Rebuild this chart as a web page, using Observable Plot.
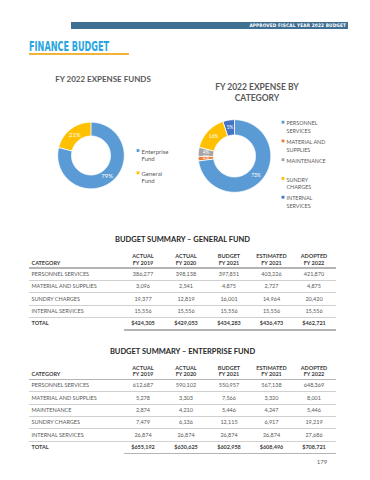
<!DOCTYPE html>
<html>
<head>
<meta charset="utf-8">
<script src="https://cdn.jsdelivr.net/npm/d3@7"></script>
<script src="https://cdn.jsdelivr.net/npm/@observablehq/plot@0.6"></script>
<style>
  html, body { margin: 0; padding: 0; }
  body { width: 370px; height: 480px; position: relative; background: #fff; overflow: hidden; font-family: Lato, "Open Sans", sans-serif; }
  .abs { position: absolute; }
  .bar { left: 71px; top: 22px; width: 277px; height: 7px; background: #3f6f93; color: #fff;
         font-family: "DejaVu Sans Condensed", "DejaVu Sans", sans-serif; font-weight: bold; font-size: 4.7px;
         line-height: 7px; text-align: right; box-sizing: border-box; padding-right: 2px; letter-spacing: 0.15px; }
  .pagetitle { left: 29px; top: 40px; font-family: "DejaVu Sans Condensed", "DejaVu Sans", sans-serif; font-weight: bold;
         font-size: 13.7px; line-height: 13.7px; color: #2aa6de; transform: scaleX(0.66); transform-origin: 0 0; white-space: nowrap; }
  .underline { left: 29px; top: 53.3px; width: 100px; height: 2px; background: #f0b43a; }
  .ctitle { font-weight: bold; color: #595959; text-align: center; white-space: nowrap; }
  .ttitle { left: 0; width: 365px; text-align: center; font-weight: bold; color: #262626; font-size: 7.5px; line-height: 8px; }
  .cell { position: absolute; font-size: 5.5px; color: #595959; white-space: nowrap; }
  .hdr { font-weight: bold; color: #404040; text-align: center; line-height: 6.6px; }
  .tot { font-weight: bold; color: #404040; }
  .line { position: absolute; }
  .pagenum { left: 310px; top: 458px; width: 24px; text-align: center; font-size: 6px; color: #595959; }
</style>
</head>
<body>
<div class="abs bar">APPROVED FISCAL YEAR 2022 BUDGET</div>
<div class="abs pagetitle">FINANCE BUDGET</div>
<div class="abs underline"></div>

<div class="abs ctitle" style="left:0;width:206px;top:74.5px;font-size:8px;line-height:9px;">FY 2022 EXPENSE FUNDS</div>
<div class="abs ctitle" style="left:197px;width:120px;top:81.5px;font-size:8.5px;line-height:11px;">FY 2022 EXPENSE BY<br>CATEGORY</div>

<div id="donut1" class="abs" style="left:0;top:110px;"></div>
<div id="donut2" class="abs" style="left:185px;top:110px;"></div>

<div class="abs ttitle" style="top:236px;">BUDGET SUMMARY – GENERAL FUND</div>
<div id="table1" class="abs" style="left:0;top:0;"></div>
<div class="abs ttitle" style="top:347.7px;">BUDGET SUMMARY – ENTERPRISE FUND</div>
<div id="table2" class="abs" style="left:0;top:0;"></div>
<div class="abs pagenum">179</div>

<script>
// ---------- Donut data ----------
const fundLabels = ["Enterprise\nFund", "General\nFund"];
const fundShares = [79, 21];
const fundColors = ["#5b9bd5", "#ffc000"];

const catLabels = ["PERSONNEL\nSERVICES", "MATERIAL AND\nSUPPLIES", "MAINTENANCE", "SUNDRY\nCHARGES", "INTERNAL\nSERVICES"];
const catShares = [73, 2, 4, 16, 5];
const catColors = ["#5b9bd5", "#ed7d31", "#a5a5a5", "#ffc000", "#4472c4"];

// ---------- Table data ----------
const colHeads = ["ACTUAL\nFY 2019", "ACTUAL\nFY 2020", "BUDGET\nFY 2021", "ESTIMATED\nFY 2021", "ADOPTED\nFY 2022"];

const genCategories = ["PERSONNEL SERVICES", "MATERIAL AND SUPPLIES", "SUNDRY CHARGES", "INTERNAL SERVICES"];
const genFY2019 = [386277, 3096, 19377, 15556];
const genFY2020 = [398138, 2541, 12819, 15556];
const genBud2021 = [397851, 4875, 16001, 15556];
const genEst2021 = [403226, 2727, 14964, 15556];
const genAdopt2022 = [421870, 4875, 20420, 15556];
const genTotals = [424305, 429053, 434283, 436473, 462721];

const entCategories = ["PERSONNEL SERVICES", "MATERIAL AND SUPPLIES", "MAINTENANCE", "SUNDRY CHARGES", "INTERNAL SERVICES"];
const entFY2019 = [612687, 5278, 2874, 7479, 26874];
const entFY2020 = [590102, 3303, 4210, 6136, 26874];
const entBud2021 = [550957, 7566, 5446, 12115, 26874];
const entEst2021 = [567138, 3320, 4247, 6917, 26874];
const entAdopt2022 = [648369, 8001, 5446, 19219, 27686];
const entTotals = [655192, 630625, 602958, 608496, 708721];

// ---------- Donut builder ----------
function donut(el, cfg) {
  const {values, labels, colors, W, H, cx, cy, R, r, lx, ly0, lstep, lfs, llh, pfs} = cfg;
  const total = d3.sum(values);
  let acc = 0;
  const slices = values.map((v, i) => {
    const a0 = acc / total * 2 * Math.PI;
    acc += v;
    const a1 = acc / total * 2 * Math.PI;
    return {i, v, a0, a1, mid: (a0 + a1) / 2};
  });
  const px = (rad, a) => cx + rad * Math.sin(a);
  const py = (rad, a) => cy - rad * Math.cos(a);
  const sliceMarks = slices.map(s => {
    const n = Math.max(2, Math.ceil((s.a1 - s.a0) / (Math.PI / 120)));
    const pts = [];
    for (let k = 0; k <= n; k++) { const a = s.a0 + (s.a1 - s.a0) * k / n; pts.push({x: px(R, a), y: py(R, a)}); }
    for (let k = n; k >= 0; k--) { const a = s.a0 + (s.a1 - s.a0) * k / n; pts.push({x: px(r, a), y: py(r, a)}); }
    return Plot.line(pts, {x: "x", y: "y", fill: colors[s.i], stroke: "#fff", strokeWidth: 0.8, curve: "linear-closed"});
  });
  const rm = (R + r) / 2;
  const legend = labels.map((l, i) => ({l, i}));
  const svg = Plot.plot({
    width: W, height: H, margin: 0,
    x: {domain: [0, W], range: [0, W], axis: null},
    y: {domain: [0, H], range: [0, H], axis: null},
    color: {type: "identity"},
    style: {background: "transparent", fontFamily: "Lato, 'Open Sans', sans-serif", overflow: "visible"},
    marks: [
      ...sliceMarks,
      Plot.text(slices, {x: d => px(rm, d.mid), y: d => py(rm, d.mid), text: d => d.v + "%", fill: "#fff", fontSize: pfs}),
      Plot.dot(legend, {x: () => lx, y: d => ly0 + d.i * lstep, symbol: "square", r: 1.6, fill: d => colors[d.i], stroke: "none"}),
      Plot.text(legend, {x: () => lx + 3.5, y: d => ly0 + d.i * lstep - 0.36 * lfs, text: "l", textAnchor: "start", lineAnchor: "top",
        lineHeight: llh, fontSize: lfs, fill: "#595959"})
    ]
  });
  el.appendChild(svg);
}

donut(document.getElementById("donut1"), {
  values: fundShares, labels: fundLabels, colors: fundColors,
  W: 185, H: 90, cx: 90.5, cy: 45, R: 33.3, r: 19.5, lx: 137.5, ly0: 40, lstep: 22.3, lfs: 6, llh: 1.22, pfs: 6
});
donut(document.getElementById("donut2"), {
  values: catShares, labels: catLabels, colors: catColors,
  W: 185, H: 100, cx: 49, cy: 45.5, R: 36.3, r: 21, lx: 97.5, ly0: 11.7, lstep: 18.75, lfs: 5.4, llh: 1.36, pfs: 4.9
});

// ---------- Table builder ----------
function table(el, cfg) {
  const {top, cats, cols, totals} = cfg;
  const fmt = d3.format(",");
  const left = 29, right = 336, catX = 31.5, headH = 18, rowH = 12.35;
  const centers = [143, 186, 229, 271.5, 314], cw = 44;
  const add = (html, css, cls) => { const d = document.createElement("div"); d.className = cls; d.innerHTML = html; Object.assign(d.style, css); el.appendChild(d); };
  // header
  add("CATEGORY", {left: catX + "px", top: (top + headH - 8) + "px", lineHeight: "6.6px"}, "cell hdr");
  el.lastChild.style.textAlign = "left";
  colHeads.forEach((h, j) => add(h.replace("\n", "<br>"), {left: (centers[j] - cw / 2) + "px", width: cw + "px", top: (top + headH - 14.6) + "px"}, "cell hdr"));
  add("", {left: left + "px", top: (top + headH - 0.75) + "px", width: (right - left) + "px", height: "1.5px", background: "#b4b4b4"}, "line");
  const y0 = top + headH;
  cats.forEach((c, i) => {
    const y = y0 + i * rowH;
    add(c, {left: catX + "px", top: y + "px", lineHeight: rowH + "px"}, "cell");
    cols.forEach((arr, j) => add(fmt(arr[i]), {left: (centers[j] - cw / 2) + "px", width: cw + "px", textAlign: "center", top: y + "px", lineHeight: rowH + "px"}, "cell"));
    add("", {left: left + "px", top: (y + rowH - 0.4) + "px", width: (right - left) + "px", height: "0.8px", background: "#d0d0d0"}, "line");
  });
  const yt = y0 + cats.length * rowH;
  add("TOTAL", {left: catX + "px", top: yt + "px", lineHeight: rowH + "px"}, "cell tot");
  totals.forEach((t, j) => add("$" + fmt(t), {left: (centers[j] - cw / 2) + "px", width: cw + "px", textAlign: "center", top: yt + "px", lineHeight: rowH + "px"}, "cell tot"));
  add("", {left: "124px", top: (yt + rowH - 0.75) + "px", width: (right - 124) + "px", height: "1.5px", background: "#b4b4b4"}, "line");
}

table(document.getElementById("table1"), {
  top: 250, cats: genCategories, cols: [genFY2019, genFY2020, genBud2021, genEst2021, genAdopt2022], totals: genTotals
});
table(document.getElementById("table2"), {
  top: 361.3, cats: entCategories, cols: [entFY2019, entFY2020, entBud2021, entEst2021, entAdopt2022], totals: entTotals
});
</script>
</body>
</html>
